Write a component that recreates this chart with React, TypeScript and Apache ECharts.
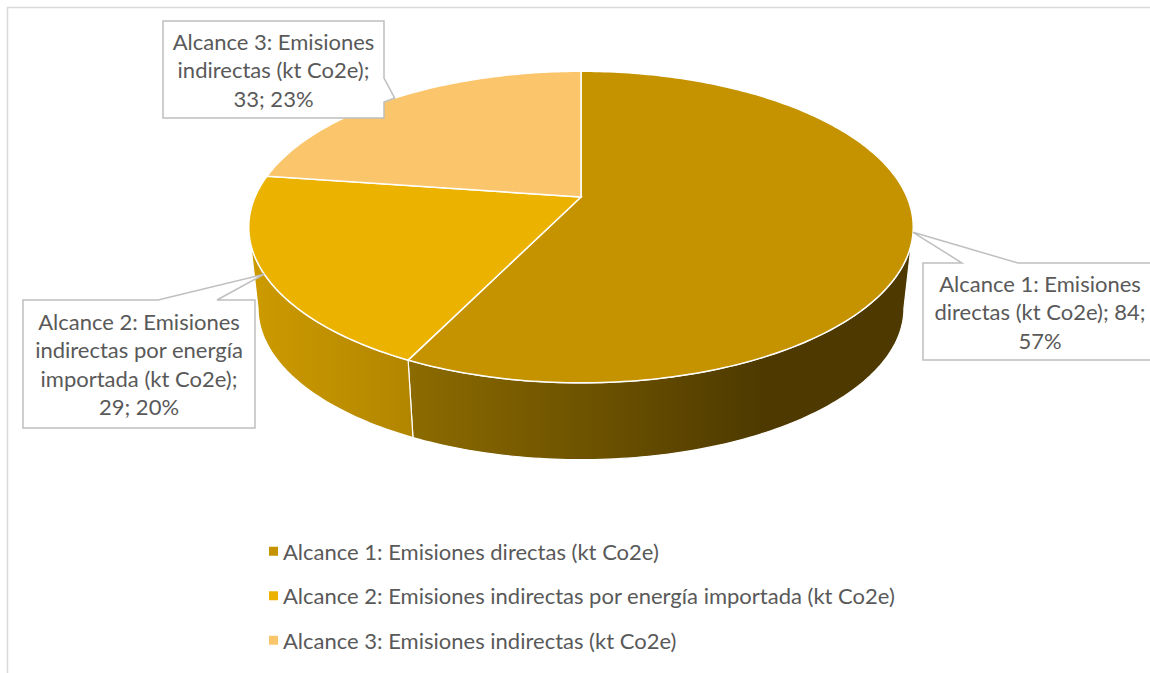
import React, { useEffect, useRef } from "react";
import * as echarts from "echarts";

const categories = [
  "Alcance 1: Emisiones directas (kt Co2e)",
  "Alcance 2: Emisiones indirectas por energía importada (kt Co2e)",
  "Alcance 3: Emisiones indirectas (kt Co2e)",
];
const values = [83.6, 29.3, 33.2];

const topColors = ["#c59300", "#ebb300", "#fbc66b"];
const sideStops = [
  [
    [0, "#8c6b00"],
    [0.35, "#6e5300"],
    [0.7, "#4e3a00"],
    [1, "#4e3a00"],
  ],
  [
    [0, "#cd9b00"],
    [1, "#b28500"],
  ],
  [
    [0, "#e8b45a"],
    [1, "#d9a650"],
  ],
];

// layout of the pie (pixels)
const CX = 581;
const CY = 197;
const RX = 326;
const RY = 150;
const K = 0.193;
const DY = 82;
const BSCALE = 0.972;
const SIL = Math.acos(-K); // silhouette angle

// callout boxes layout
const boxes = [
  { x: 923, y: 263, w: 234, h: 97, side: "top", a: 962, b: 1018, maxChars: 23 },
  { x: 23, y: 300, w: 232, h: 128, side: "top", a: 158, b: 217, maxChars: 22 },
  { x: 163, y: 21, w: 221, h: 97, side: "right", a: 78, b: 102, maxChars: 21 },
];

const FONT = "Lato";
const FS = 22;
const TXT = "#595959";

function proj(t: number, bottom: boolean) {
  const s = 1 / (1 + K * Math.cos(t));
  const sc = bottom ? BSCALE : 1;
  return [
    CX + RX * sc * Math.sin(t) * s,
    CY + (bottom ? DY : 0) - RY * sc * Math.cos(t) * s,
  ];
}

function arc(a: number, b: number, bottom: boolean) {
  const pts: number[][] = [];
  const n = Math.max(2, Math.ceil(((b - a) * 180) / Math.PI));
  for (let i = 0; i <= n; i++) pts.push(proj(a + ((b - a) * i) / n, bottom));
  return pts;
}

function wrap(text: string, maxChars: number) {
  const words = text.split(" ");
  const lines: string[] = [];
  let cur = "";
  for (const w of words) {
    const cand = cur ? cur + " " + w : w;
    if (cand.length > maxChars && cur) {
      lines.push(cur);
      cur = w;
    } else cur = cand;
  }
  if (cur) lines.push(cur);
  return lines.join("\n");
}

export default function App() {
  const ref = useRef<HTMLDivElement>(null);
  useEffect(() => {
    if (!ref.current) return;
    const chart = echarts.init(ref.current, undefined, { renderer: "svg" });
    const total = values.reduce((p, c) => p + c, 0);

    const makeRender = (idx: number) => (params: any, api: any) => {
      const v = api.value(0);
      const before = values.slice(0, idx).reduce((p, c) => p + c, 0);
      const a = (before / total) * Math.PI * 2;
      const b = a + (v / total) * Math.PI * 2;
      const children: any[] = [];
      // side
      const sa = Math.max(a, SIL);
      const sb = Math.min(b, Math.PI * 2 - SIL);
      if (sb > sa) {
        const top = arc(sa, sb, false);
        const bot = arc(sa, sb, true).reverse();
        children.push({
          type: "polygon",
          z2: 1,
          shape: { points: top.concat(bot) },
          style: {
            fill: new echarts.graphic.LinearGradient(
              0,
              0,
              1,
              0,
              sideStops[idx].map((s: any) => ({ offset: s[0], color: s[1] }))
            ),
            stroke: "#ffffff",
            lineWidth: 1.2,
          },
        });
      }
      // top
      children.push({
        type: "polygon",
        z2: 2,
        shape: { points: [[CX, CY]].concat(arc(a, b, false)) },
        style: { fill: topColors[idx], stroke: "#ffffff", lineWidth: 1.5 },
      });
      // callout
      const bx = boxes[idx];
      const tip = proj((a + b) / 2, false);
      let pts: number[][];
      if (bx.side === "top") {
        pts = [
          [bx.x, bx.y],
          [bx.a, bx.y],
          tip,
          [bx.b, bx.y],
          [bx.x + bx.w, bx.y],
          [bx.x + bx.w, bx.y + bx.h],
          [bx.x, bx.y + bx.h],
        ];
      } else {
        pts = [
          [bx.x, bx.y],
          [bx.x + bx.w, bx.y],
          [bx.x + bx.w, bx.a],
          tip,
          [bx.x + bx.w, bx.b],
          [bx.x + bx.w, bx.y + bx.h],
          [bx.x, bx.y + bx.h],
        ];
      }
      children.push({
        type: "polygon",
        z2: 10,
        shape: { points: pts },
        style: { fill: "#ffffff", stroke: "#bfbfbf", lineWidth: 1.5 },
      });
      const pct = Math.round((v / total) * 100);
      const label = wrap(`${categories[idx]}; ${Math.round(v)}; ${pct}%`, bx.maxChars);
      children.push({
        type: "text",
        z2: 11,
        style: {
          text: label,
          x: bx.x + bx.w / 2,
          y: bx.y + bx.h / 2,
          align: "center",
          verticalAlign: "middle",
          fill: TXT,
          fontFamily: FONT,
          fontSize: FS,
          lineHeight: 28.5,
        },
      });
      return { type: "group", children };
    };

    chart.setOption({
      animation: false,
      backgroundColor: "#ffffff",
      graphic: [
        {
          type: "rect",
          left: 5,
          top: 5,
          shape: { x: 0, y: 0, width: 1200, height: 700 },
          style: { fill: "none", stroke: "#d9d9d9", lineWidth: 1.5 },
          silent: true,
        },
      ],
      legend: {
        orient: "vertical",
        left: 269,
        top: 537,
        padding: 0,
        icon: "rect",
        itemWidth: 9,
        itemHeight: 9,
        itemGap: 16,
        data: categories,
        selectedMode: false,
        textStyle: {
          color: TXT,
          fontFamily: FONT,
          fontSize: FS,
          lineHeight: 28.5,
        },
      },
      series: categories.map((name, i) => ({
        type: "custom",
        name,
        coordinateSystem: "none",
        itemStyle: { color: topColors[i] },
        data: [[values[i]]],
        renderItem: makeRender(i),
      })),
    });
    return () => chart.dispose();
  }, []);
  return (
    <div
      ref={ref}
      style={{ position: "absolute", left: 0, top: 0, width: 1150, height: 673 }}
    />
  );
}
